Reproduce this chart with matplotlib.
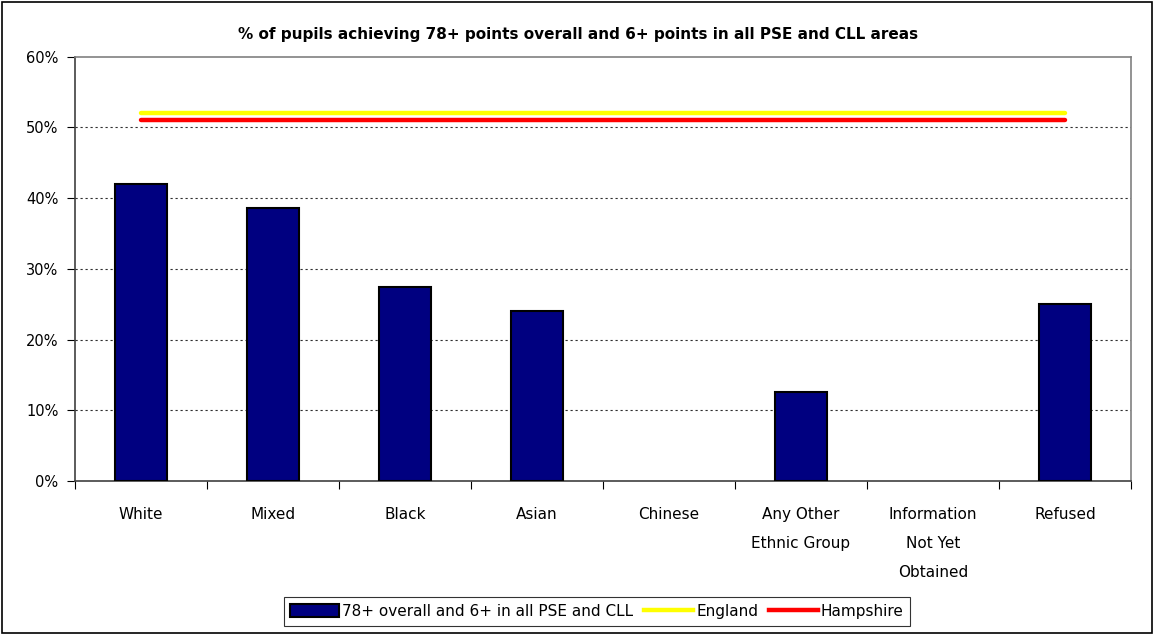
import matplotlib
matplotlib.use("Agg")
import matplotlib.pyplot as plt
from matplotlib.patches import Rectangle, Patch
from matplotlib.lines import Line2D
import numpy as np

categories = ["White", "Mixed", "Black", "Asian", "Chinese",
              "Any Other\nEthnic Group", "Information\nNot Yet\nObtained", "Refused"]
pupils = [42.0, 38.6, 27.4, 24.1, 0.0, 12.6, 0.0, 25.0]
england = [52.0] * 8
hampshire = [51.0] * 8
yticks = [0, 10, 20, 30, 40, 50, 60]
title = "% of pupils achieving 78+ points overall and 6+ points in all PSE and CLL areas"

W, H = 1154, 634
fig = plt.figure(figsize=(W / 100, H / 100), dpi=100)
plt.rcParams['font.family'] = ['DejaVu Sans']

# outer frame
fig.patches.append(Rectangle((0.002, 0.002), 0.996, 0.995, transform=fig.transFigure,
                             fill=False, edgecolor='black', linewidth=1.2))

left, right, top, bottom = 75, 1131, 56.7, 481
ax = fig.add_axes([left / W, (H - bottom) / H, (right - left) / W, (bottom - top) / H])

x = np.arange(len(categories))
lws = [1.5 if v > 0 else 0 for v in pupils]
ax.bar(x, pupils, width=0.4, color='#000080', edgecolor='black', linewidth=lws, zorder=3)
ax.plot(x, england, color='#FFFF00', linewidth=3.2, solid_capstyle='round', zorder=4)
ax.plot(x, hampshire, color='#FF0000', linewidth=3.2, solid_capstyle='round', zorder=4)

ax.set_xlim(-0.5, len(categories) - 0.5)
ax.set_ylim(0, 60)
ax.set_yticks(yticks)
ax.set_yticklabels([f"{v}%" for v in yticks], fontsize=10.5)
for v in yticks[1:-1]:
    ax.axhline(v, color='#303030', linestyle=(0, (2, 2.5)), linewidth=0.8, zorder=1)

# category boundaries as major ticks, labels on minor ticks
ax.set_xticks(np.arange(-0.5, len(categories), 1.0))
ax.set_xticklabels([])
ax.set_xticks(x, minor=True)
ax.set_xticklabels(categories, minor=True, fontsize=11, linespacing=2.15, va='top')
ax.tick_params(axis='x', which='minor', length=0, pad=19)
ax.tick_params(axis='x', which='major', length=6, width=0.8, direction='out')
ax.tick_params(axis='y', length=6, width=0.8, direction='out', pad=6)

for s in ['top', 'right']:
    ax.spines[s].set_color('#808080')
    ax.spines[s].set_linewidth(1.2)
for s in ['left', 'bottom']:
    ax.spines[s].set_color('#404040')
    ax.spines[s].set_linewidth(1.2)

fig.text(578 / W, 1 - 35 / H, title, ha='center', va='center', fontsize=11, fontweight='bold')

handles = [Patch(facecolor='#000080', edgecolor='black', linewidth=1.5),
           Line2D([0], [0], color='#FFFF00', linewidth=3.2),
           Line2D([0], [0], color='#FF0000', linewidth=3.2)]
labels = ["78+ overall and 6+ in all PSE and CLL", "England", "Hampshire"]
leg = fig.legend(handles, labels, loc='upper center', bbox_to_anchor=(597 / W, 1 - 597 / H),
                 ncol=3, frameon=True, fancybox=False, fontsize=11, handlelength=3.2,
                 handleheight=0.95, handletextpad=0.2, columnspacing=0.7, borderpad=0.45,
                 borderaxespad=0)
leg.get_frame().set_edgecolor('black')
leg.get_frame().set_linewidth(0.8)

fig.savefig("out.png", dpi=100)
